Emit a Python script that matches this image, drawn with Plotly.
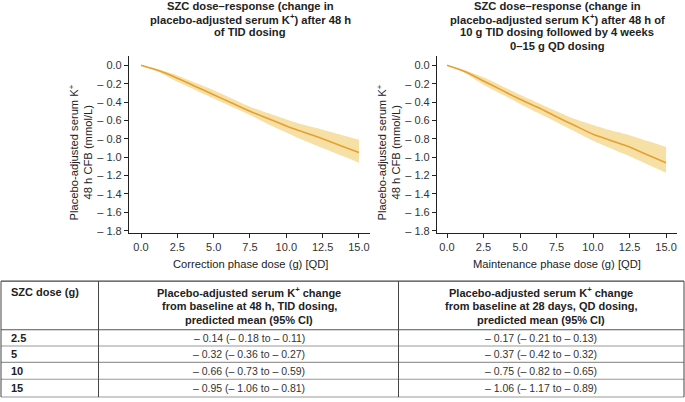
import plotly.graph_objects as go

# ---------------- data ----------------
dose = [0, 1.25, 2.5, 3.75, 5, 6.25, 7.5, 8.75, 10, 11.25, 12.5, 13.75, 15]

tid_mean = [0, -0.06, -0.14, -0.23, -0.32, -0.41, -0.50, -0.58, -0.66, -0.73, -0.80, -0.875, -0.95]
tid_lower = [0, -0.075, -0.18, -0.27, -0.36, -0.45, -0.54, -0.64, -0.73, -0.82, -0.90, -0.98, -1.06]
tid_upper = [0, -0.045, -0.11, -0.19, -0.27, -0.36, -0.45, -0.52, -0.59, -0.65, -0.70, -0.755, -0.81]

qd_mean = [0, -0.07, -0.17, -0.27, -0.37, -0.46, -0.56, -0.655, -0.75, -0.82, -0.89, -0.975, -1.06]
qd_lower = [0, -0.085, -0.21, -0.315, -0.42, -0.52, -0.62, -0.72, -0.82, -0.905, -0.99, -1.08, -1.17]
qd_upper = [0, -0.055, -0.13, -0.225, -0.32, -0.41, -0.50, -0.585, -0.65, -0.71, -0.76, -0.825, -0.89]

x_ticks = [0, 2.5, 5, 7.5, 10, 12.5, 15]
y_ticks = [0, -0.2, -0.4, -0.6, -0.8, -1.0, -1.2, -1.4, -1.6, -1.8]

table_doses = ["2.5", "5", "10", "15"]
table_tid_mean = [-0.14, -0.32, -0.66, -0.95]
table_tid_lo = [-0.18, -0.36, -0.73, -1.06]
table_tid_hi = [-0.11, -0.27, -0.59, -0.81]
table_qd_mean = [-0.17, -0.37, -0.75, -1.06]
table_qd_lo = [-0.21, -0.42, -0.82, -1.17]
table_qd_hi = [-0.13, -0.32, -0.65, -0.89]

title_lines = [
    ["SZC dose–response (change in", "placebo-adjusted serum K<sup>+</sup>) after 48 h", "of TID dosing"],
    ["SZC dose–response (change in", "placebo-adjusted serum K<sup>+</sup>) after 48 h of",
     "10 g TID dosing followed by 4 weeks", "0–15 g QD dosing"],
]
x_titles = ["Correction phase dose (g) [QD]", "Maintenance phase dose (g) [QD]"]
y_title_lines = ["Placebo-adjusted serum K<sup>+</sup>", "48 h CFB (mmol/L)"]
header_first = "SZC dose (g)"
header_lines = [
    ["Placebo-adjusted serum K<sup>+</sup> change", "from baseline at 48 h, TID dosing,", "predicted mean (95% CI)"],
    ["Placebo-adjusted serum K<sup>+</sup> change", "from baseline at 28 days, QD dosing,", "predicted mean (95% CI)"],
]

# ---------------- style ----------------
W, H = 685, 402
FONT = "Liberation Sans, Arial, sans-serif"
LINE_COL = "#E6A030"
FILL_COL = "rgba(242,205,110,0.62)"
TXT = "#222222"
FS = 11.2


def px(x):
    return x / W


def py(y):
    return 1 - y / H


def fmt(v):
    return "\u2013 %.2f" % abs(v) if v < 0 else "%.2f" % v


fig = go.Figure()

panels = [
    (tid_mean, tid_lower, tid_upper, "x", "y"),
    (qd_mean, qd_lower, qd_upper, "x2", "y2"),
]
for mean, lo, hi, xa, ya in panels:
    fig.add_trace(go.Scatter(x=dose, y=hi, mode="lines", line=dict(width=0, shape="spline", smoothing=0.6),
                             xaxis=xa, yaxis=ya, showlegend=False, hoverinfo="skip"))
    fig.add_trace(go.Scatter(x=dose, y=lo, mode="lines", line=dict(width=0, shape="spline", smoothing=0.6),
                             fill="tonexty", fillcolor=FILL_COL,
                             xaxis=xa, yaxis=ya, showlegend=False, hoverinfo="skip"))
    fig.add_trace(go.Scatter(x=dose, y=mean, mode="lines",
                             line=dict(color=LINE_COL, width=1.6, shape="spline", smoothing=0.6),
                             xaxis=xa, yaxis=ya, showlegend=False))

y_ticktext = [("\u2013 %.1f" % abs(v)) if v < 0 else "%.1f" % v for v in y_ticks]
x_ticktext = ["%.1f" % v for v in x_ticks]

axis_common = dict(showgrid=False, zeroline=False, showline=True, linecolor="#222", linewidth=1.2,
                   ticks="outside", ticklen=4, tickwidth=1, tickcolor="#222",
                   tickfont=dict(family=FONT, size=11, color="#333"))

yrange = [-1.8216, 0.097]
fig.update_layout(
    width=W, height=H, margin=dict(l=0, r=0, t=0, b=0),
    paper_bgcolor="white", plot_bgcolor="white",
    font=dict(family=FONT, color=TXT),
    xaxis=dict(domain=[px(129), px(370)], range=[-0.826, 15.76], anchor="y",
               tickvals=x_ticks, ticktext=x_ticktext, **axis_common),
    yaxis=dict(domain=[py(235), py(57)], range=yrange, anchor="x",
               tickvals=y_ticks, ticktext=y_ticktext, **axis_common),
    xaxis2=dict(domain=[px(437), px(677)], range=[-0.685, 15.75], anchor="y2",
                tickvals=x_ticks, ticktext=x_ticktext, **axis_common),
    yaxis2=dict(domain=[py(235), py(57)], range=yrange, anchor="x2",
                tickvals=y_ticks, ticktext=y_ticktext, **axis_common),
)

ann = []


def add_text(text, x, y, size=FS, anchor="center", bold=False, angle=0, color=TXT):
    ann.append(dict(text=("<b>%s</b>" % text) if bold else text, x=px(x), y=py(y),
                    xref="paper", yref="paper", xanchor=anchor, yanchor="middle",
                    showarrow=False, textangle=angle,
                    font=dict(family=FONT, size=size, color=color)))


# titles (one annotation per line)
for lines, cx in zip(title_lines, [250, 557]):
    for k, t in enumerate(lines):
        add_text(t, cx, 6 + 13.4 * k, bold=True)
# x axis titles
for t, cx in zip(x_titles, [250, 557]):
    add_text(t, cx, 267)
# y axis titles
for x0 in [74, 382]:
    for k, t in enumerate(y_title_lines):
        add_text(t, x0 + 14 * k, 154, angle=-90)

# ---------------- table ----------------
tab_top = 284
row_lines = [333, 349.5, 366, 383, 401]
col_x = [1, 98.5, 398.5, 684]
shapes = []
shapes.append(dict(type="line", xref="paper", yref="paper", x0=px(col_x[0]), x1=px(col_x[-1]),
                   y0=py(tab_top), y1=py(tab_top), line=dict(color="#444", width=1.2)))
for i, yl in enumerate(row_lines):
    shapes.append(dict(type="line", xref="paper", yref="paper", x0=px(col_x[0]), x1=px(col_x[-1]),
                       y0=py(yl), y1=py(yl), line=dict(color="#555" if i == 0 else "#999", width=1.1)))
for xc in col_x:
    shapes.append(dict(type="line", xref="paper", yref="paper", x0=px(xc), x1=px(xc),
                       y0=py(tab_top), y1=py(row_lines[-1]), line=dict(color="#444", width=1)))

# header
add_text(header_first, 9, 295, size=11, anchor="left", bold=True)
for lines, cx in zip(header_lines, [249, 541]):
    for k, t in enumerate(lines):
        add_text(t, cx, 295 + 14 * k, size=11, bold=True)

# body
for i, d in enumerate(table_doses):
    cy = (row_lines[i] + row_lines[i + 1]) / 2
    add_text(d, 9, cy, size=11, anchor="left", bold=True)
    s1 = "%s (%s to %s)" % (fmt(table_tid_mean[i]), fmt(table_tid_lo[i]), fmt(table_tid_hi[i]))
    s2 = "%s (%s to %s)" % (fmt(table_qd_mean[i]), fmt(table_qd_lo[i]), fmt(table_qd_hi[i]))
    add_text(s1, 249, cy, size=10.5, color="#333")
    add_text(s2, 541, cy, size=10.5, color="#333")

fig.update_layout(annotations=ann, shapes=shapes)
fig.write_html("out.html", config={"displayModeBar": False})

# remove the default page margin so the figure sits at the window's top-left corner
with open("out.html", encoding="utf-8") as f:
    html = f.read()
html = html.replace("<head>", "<head><style>html,body{margin:0;padding:0;overflow:hidden;}</style>", 1)
with open("out.html", "w", encoding="utf-8") as f:
    f.write(html)
